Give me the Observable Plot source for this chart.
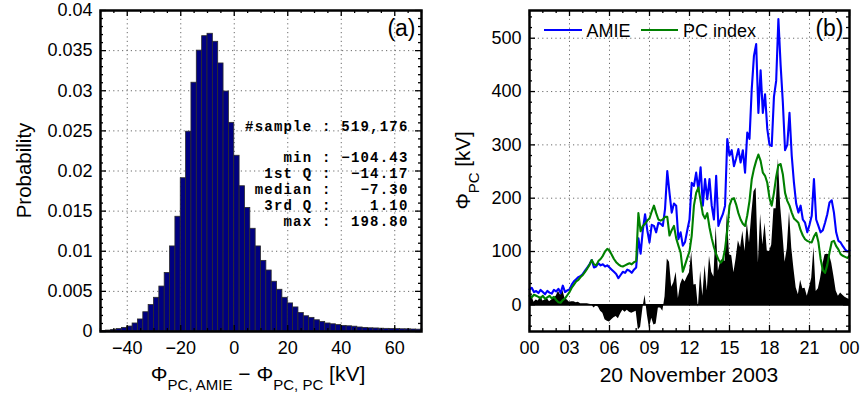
<!DOCTYPE html>
<html><head><meta charset="utf-8">
<script src="https://cdn.jsdelivr.net/npm/d3@7"></script>
<script src="https://cdn.jsdelivr.net/npm/@observablehq/plot@0.6"></script>
<style>
body{margin:0;background:#fff;}
#wrap{position:relative;width:860px;height:398px;display:flex;flex-direction:row;}
#wrap svg{display:block;overflow:visible;}
</style></head><body><div id="wrap"></div>
<script>
// ---------- Panel (a): histogram of AMIE - PC differences ----------
const binStart = [-50,-48,-46,-44,-42,-40,-38,-36,-34,-32,-30,-28,-26,-24,-22,-20,-18,-16,-14,-12,-10,-8,-6,-4,-2,0,2,4,6,8,10,12,14,16,18,20,22,24,26,28,30,32,34,36,38,40,42,44,46,48,50,52,54,56,58,60,62,64,66,68];
const binProb = [0.00005,0.00012,0.0002,0.0003,0.00045,0.00062,0.001,0.0015,0.0024,0.0033,0.0042,0.0056,0.0073,0.0106,0.0143,0.0191,0.0249,0.031,0.035,0.0368,0.0371,0.0361,0.0334,0.0299,0.026,0.0219,0.0181,0.0154,0.0128,0.0106,0.0088,0.0076,0.0062,0.0052,0.0042,0.0035,0.003,0.0023,0.0019,0.0017,0.0014,0.0012,0.001,0.0009,0.0008,0.0007,0.00065,0.0006,0.0005,0.00045,0.0004,0.00038,0.00035,0.00033,0.00032,0.0003,0.00028,0.00027,0.00025,0.00023];
const binWidth = 2;
const histXTicks = [-40,-20,0,20,40,60];
const histXMinor = [-50,-45,-35,-30,-25,-15,-10,-5,5,10,15,25,30,35,45,50,55,65,70];
const histYTicks = [0,0.005,0.01,0.015,0.02,0.025,0.03,0.035,0.04];
const histYMinor = [0.001,0.002,0.003,0.004,0.006,0.007,0.008,0.009,0.011,0.012,0.013,0.014,0.016,0.017,0.018,0.019,0.021,0.022,0.023,0.024,0.026,0.027,0.028,0.029,0.031,0.032,0.033,0.034,0.036,0.037,0.038,0.039];
const statLabels = ["#sample :","","min :","1st Q :","median :","3rd Q :","max :"];
const statValues = ["519,176","","−104.43","−14.17","−7.30","1.10","198.80"];

// ---------- Panel (b): time series, 20 November 2003 (10-min samples) ----------
const stepMinutes = 10;
const amie = [29,32,24,26,22,28, 24,20,26,23,21,28, 25,30,22,36,24,27, 29,38,44,48,52,54,
  58,64,70,76,84,70, 72,78,74,76,72,74, 70,66,62,58,50,56, 62,60,66,64,60,66,
  70,125,96,140,170,140, 117,150,148,136,154,152, 148,180,251,210,173,190, 186,123,136,111,118,140,
  160,229,223,248,215,258, 186,236,198,236,186,160, 242,148,160,170,186,311, 280,290,260,275,292,267,
  290,248,323,311,404,467, 489,360,440,360,395,330, 300,298,390,420,536,450, 380,290,300,360,280,229,
  190,173,186,160,154,136, 150,167,236,160,148,136, 140,154,170,192,196,173, 136,120,117,110,104,100,
  102];
const pcIndex = [17,14,19,17,15,12, 17,11,14,17,12,15, 9,5,4,9,12,18, 24,32,38,44,47,52,
  56,62,68,75,84,76, 74,82,86,92,100,105, 102,94,86,80,76,73, 72,74,76,78,76,80,
  82,172,138,148,152,158, 162,175,186,172,160,158, 160,165,165,130,140,148, 125,111,98,62,75,88,
  100,130,186,210,220,195, 170,162,172,145,125,108, 95,85,79,84,105,140, 186,198,200,188,172,160,
  152,148,168,195,235,255, 270,282,270,248,242,229, 200,186,210,240,262,264, 245,210,195,186,173,162,
  158,154,140,130,123,120, 118,117,128,135,118,86, 65,60,75,98,118,120, 110,104,95,92,90,88,
  92];
const tsXTicks = [0,3,6,9,12,15,18,21,24];
const tsXLabels = ["00","03","06","09","12","15","18","21","00"];
const tsXMinor = [1,2,4,5,7,8,10,11,13,14,16,17,19,20,22,23];
const tsYTicks = [0,100,200,300,400,500];
const tsYMinor = [-40,-20,20,40,60,80,120,140,160,180,220,240,260,280,320,340,360,380,420,440,460,480,520,540];
const seriesNames = ["AMIE","PC index"];
const seriesColors = ["#0000ff","#008000"];

// ---------- shared layout ----------
const W = 430, H = 398, mT = 10, mB = 67;
const fh = H - mT - mB;
const FONT = "'Liberation Sans', Arial, Helvetica, sans-serif";
const MONO = "'Liberation Mono','Courier New',monospace";
const minusFmt = d => d < 0 ? "\u2212" + Math.abs(d) : String(d);
const dotted = {stroke: "#6a6a6a", strokeOpacity: 1, strokeWidth: 1, strokeDasharray: "1.2,3.2"};

function inwardTicks(xMaj, xMin, yMaj, yMin, fw) {
  const t = {stroke: "black", strokeWidth: 1.3};
  return [
    Plot.tickX(xMaj, {x: d => d, insetTop: fh - 6, ...t}),
    Plot.tickX(xMaj, {x: d => d, insetBottom: fh - 6, ...t}),
    Plot.tickX(xMin, {x: d => d, insetTop: fh - 3, ...t}),
    Plot.tickX(xMin, {x: d => d, insetBottom: fh - 3, ...t}),
    Plot.tickY(yMaj, {y: d => d, insetRight: fw - 6, ...t}),
    Plot.tickY(yMaj, {y: d => d, insetLeft: fw - 6, ...t}),
    Plot.tickY(yMin, {y: d => d, insetRight: fw - 3, ...t}),
    Plot.tickY(yMin, {y: d => d, insetLeft: fw - 3, ...t})
  ];
}

// Panel (a)
const aL = 100, aR = 9, fwA = W - aL - aR;
const hist = binStart.map((s, i) => ({x1: s, x2: s + binWidth, p: binProb[i]}));
const statStyle = {frameAnchor: "top-right", textAnchor: "end", lineAnchor: "top", dy: 109, lineHeight: 1.13,
  fontFamily: MONO, fontWeight: "bold", fontSize: 14, fill: "black"};
const plotA = Plot.plot({
  width: W, height: H, marginTop: mT, marginBottom: mB, marginLeft: aL, marginRight: aR,
  style: {fontFamily: FONT, fontSize: "18px", background: "white", color: "black", overflow: "visible"},
  x: {domain: [-50, 70]},
  y: {domain: [0, 0.04]},
  marks: [
    Plot.gridX(histXTicks, dotted),
    Plot.gridY(histYTicks.slice(1, -1), dotted),
    Plot.rectY(hist, {x1: "x1", x2: "x2", y: "p", fill: "#000080", stroke: "#2b2b2b", strokeWidth: 0.8}),
    Plot.axisX(histXTicks, {tickSize: 0, tickPadding: 10, tickFormat: minusFmt, label: null}),
    Plot.axisY(histYTicks, {tickSize: 0, tickPadding: 8, tickFormat: d => String(d), label: null}),
    ...inwardTicks(histXTicks, histXMinor, histYTicks, histYMinor, fwA),
    Plot.text([statLabels.join("\n")], {text: d => d, dx: -90, ...statStyle}),
    Plot.text([statValues.join("\n")], {text: d => d, dx: -13, ...statStyle}),
    Plot.text(["(a)"], {text: d => d, frameAnchor: "top-right", textAnchor: "end", lineAnchor: "top", dx: -6, dy: 9, fontSize: 23, fill: "black"}),
    Plot.frame({stroke: "black", strokeWidth: 2.5})
  ]
});
d3.select(plotA).selectAll("g").filter(function() { return this.getAttribute("font-family") === MONO; })
  .attr("letter-spacing", "1.2px");

// Panel (b)
const bL = 99, bR = 11, fwB = W - bL - bR;
const ts = amie.map((v, i) => ({h: i * stepMinutes / 60, amie: v, pc: pcIndex[i], diff: v - pcIndex[i]}));
const plotB = Plot.plot({
  width: W, height: H, marginTop: mT, marginBottom: mB, marginLeft: bL, marginRight: bR,
  style: {fontFamily: FONT, fontSize: "18px", background: "white", color: "black", overflow: "visible"},
  x: {domain: [0, 24]},
  y: {domain: [-50, 552]},
  marks: [
    Plot.gridX(tsXTicks.slice(1, -1), dotted),
    Plot.gridY(tsYTicks.slice(1), dotted),
    Plot.areaY(ts, {x: "h", y: "diff", fill: "black", curve: "linear"}),
    Plot.ruleY([0], {stroke: "black", strokeWidth: 1.6}),
    Plot.lineY(ts, {x: "h", y: "amie", stroke: seriesColors[0], strokeWidth: 2.1}),
    Plot.lineY(ts, {x: "h", y: "pc", stroke: seriesColors[1], strokeWidth: 2.1}),
    Plot.axisX(tsXTicks, {tickSize: 0, tickPadding: 10, tickFormat: (d, i) => tsXLabels[i], label: null}),
    Plot.axisY(tsYTicks, {tickSize: 0, tickPadding: 8, tickFormat: d => String(d), label: null}),
    ...inwardTicks(tsXTicks, tsXMinor, tsYTicks, tsYMinor, fwB),
    Plot.text(["(b)"], {text: d => d, frameAnchor: "top-right", textAnchor: "end", lineAnchor: "top", dx: -6, dy: 9, fontSize: 23, fill: "black"}),
    Plot.frame({stroke: "black", strokeWidth: 2.5})
  ]
});

const wrap = document.getElementById("wrap");
wrap.appendChild(plotA);
wrap.appendChild(plotB);

// ---------- axis titles with subscripts, legend ----------
function addText(svg, x, y, parts, opts = {}) {
  const t = d3.select(svg).append("text")
    .attr("x", x).attr("y", y)
    .attr("font-family", FONT).attr("font-size", opts.size || 21)
    .attr("text-anchor", opts.anchor || "middle").attr("fill", "black");
  if (opts.rotate) t.attr("transform", `rotate(-90 ${x} ${y})`);
  for (const p of parts) {
    const s = t.append("tspan").text(p.t);
    if (p.sub) s.attr("font-size", 15).attr("dy", 9);
    if (p.up) s.attr("dy", -9);
  }
  return t;
}
// (a) labels
addText(plotA, 258, 381, [{t: "\u03A6"}, {t: "PC, AMIE", sub: true}, {t: " \u2212 \u03A6", up: true}, {t: "PC, PC", sub: true}, {t: " [kV]", up: true}]);
addText(plotA, 31, 170.5, [{t: "Probability"}], {rotate: true, size: 20.5});
// (b) labels
addText(plotB, 259, 381.5, [{t: "20 November 2003"}]);
addText(plotB, 40, 170.5, [{t: "\u03A6"}, {t: "PC", sub: true}, {t: " [kV]", up: true}], {rotate: true, size: 20.5});
// legend (b)
const lg = d3.select(plotB).append("g").attr("text-anchor", "start");
lg.append("line").attr("x1", 114).attr("x2", 152).attr("y1", 30).attr("y2", 30).attr("stroke", seriesColors[0]).attr("stroke-width", 2.2);
lg.append("text").attr("x", 156.5).attr("y", 37).attr("text-anchor", "start").attr("font-family", FONT).attr("font-size", 18).text(seriesNames[0]);
lg.append("line").attr("x1", 211).attr("x2", 248).attr("y1", 30).attr("y2", 30).attr("stroke", seriesColors[1]).attr("stroke-width", 2.2);
lg.append("text").attr("x", 253).attr("y", 37).attr("text-anchor", "start").attr("font-family", FONT).attr("font-size", 18).text(seriesNames[1]);
</script>
</body></html>
